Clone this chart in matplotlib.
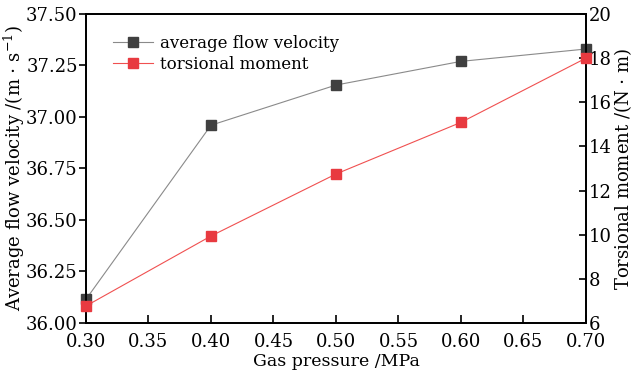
import matplotlib
matplotlib.use("Agg")
import matplotlib.pyplot as plt

# values
pressure = [0.30, 0.40, 0.50, 0.60, 0.70]
flow_velocity = [36.115, 36.96, 37.155, 37.27, 37.33]
torsional_moment = [6.77, 9.94, 12.75, 15.09, 18.0]

x_ticks = [0.30, 0.35, 0.40, 0.45, 0.50, 0.55, 0.60, 0.65, 0.70]
left_ticks = [36.00, 36.25, 36.50, 36.75, 37.00, 37.25, 37.50]
right_ticks = [6, 8, 10, 12, 14, 16, 18, 20]

plt.rcParams["font.family"] = "DejaVu Serif"
plt.rcParams["mathtext.fontset"] = "dejavuserif"

fig = plt.figure(figsize=(6.35, 3.74), dpi=100)
ax = fig.add_axes([0.1354, 0.1364, 0.7874, 0.8262])
ax2 = ax.twinx()

l1, = ax.plot(pressure, flow_velocity, color="#8a8a8a", lw=0.8,
              marker="s", ms=6.5, mfc="#404040", mec="#404040",
              label="average flow velocity", clip_on=False, zorder=3)
l2, = ax2.plot(pressure, torsional_moment, color="#f05050", lw=0.8,
               marker="s", ms=6.5, mfc="#e83a40", mec="#e83a40",
               label="torsional moment", clip_on=False, zorder=3)

ax.set_xlim(0.30, 0.70)
ax.set_ylim(36.0, 37.5)
ax2.set_ylim(6, 20)

ax.set_xticks(x_ticks)
ax.set_xticklabels([f"{v:.2f}" for v in x_ticks])
ax.set_yticks(left_ticks)
ax.set_yticklabels([f"{v:.2f}" for v in left_ticks])
ax2.set_yticks(right_ticks)

for a in (ax, ax2):
    for s in a.spines.values():
        s.set_linewidth(1.3)
ax.tick_params(axis="x", direction="in", length=6, width=1.2, labelsize=13, pad=7)
ax.tick_params(axis="y", direction="out", length=5, width=1.2, labelsize=13, pad=1)
ax2.tick_params(axis="y", direction="in", length=5, width=1.2, labelsize=13, pad=2)

ax.set_xlabel("Gas pressure /MPa", fontsize=12.5, labelpad=2)
ax.set_ylabel(r"Average flow velocity /(m $\cdot$ s$^{-1}$)", fontsize=13, labelpad=-1)
ax2.set_ylabel(r"Torsional moment /(N $\cdot$ m)", fontsize=13, labelpad=0)

ax.legend(handles=[l1, l2], loc="upper left", frameon=False, fontsize=12,
          handlelength=2.4, handletextpad=0.4, labelspacing=0.2,
          bbox_to_anchor=(0.025, 0.98))

fig.savefig("out.png", dpi=100)
